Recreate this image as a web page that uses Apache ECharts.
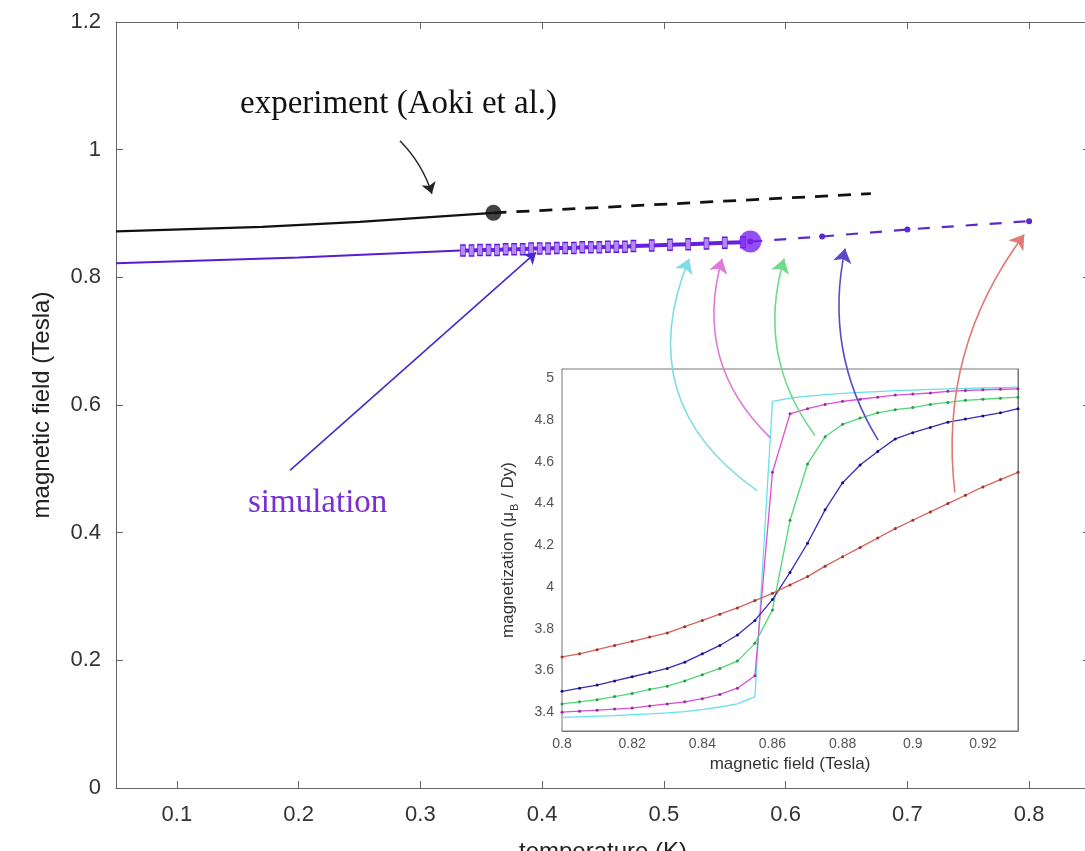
<!DOCTYPE html>
<html>
<head>
<meta charset="utf-8">
<script src="https://cdn.jsdelivr.net/npm/echarts@6/dist/echarts.min.js"></script>
<style>
  html, body { margin: 0; padding: 0; background: #fff; }
  #chart { width: 1085px; height: 851px; }
</style>
</head>
<body>
<div id="chart"></div>
<script>
// main plot: phase boundary, temperature (K) vs magnetic field (T)
const tempTicks = [0.1, 0.2, 0.3, 0.4, 0.5, 0.6, 0.7, 0.8];

const expSolidT = [0.05, 0.17, 0.25, 0.36];
const expSolidB = [0.872, 0.879, 0.887, 0.901];
const expDashT = [0.36, 0.67];
const expDashB = [0.901, 0.931];

const simSolidT = [0.05, 0.2, 0.333];
const simSolidB = [0.822, 0.831, 0.842];
const simDenseT = [0.335, 0.342, 0.349, 0.356, 0.363, 0.370, 0.377, 0.384, 0.391, 0.398, 0.405, 0.412,
  0.419, 0.426, 0.433, 0.44, 0.447, 0.454, 0.461, 0.468, 0.475, 0.49, 0.505, 0.52, 0.535, 0.55, 0.565];
const simDenseB = [0.842, 0.842, 0.843, 0.843, 0.843, 0.844, 0.844, 0.844, 0.845, 0.845, 0.845, 0.846,
  0.846, 0.846, 0.847, 0.847, 0.847, 0.848, 0.848, 0.848, 0.849, 0.850, 0.851, 0.852, 0.853, 0.854, 0.855];
const simCritT = [0.571];
const simCritB = [0.856];
const simDashT = [0.571, 0.63, 0.70, 0.80];
const simDashB = [0.856, 0.864, 0.875, 0.888];

// inset: magnetization vs field at several temperatures
const fieldTicks = [0.8, 0.82, 0.84, 0.86, 0.88, 0.9, 0.92];
const magTicks = [3.4, 3.6, 3.8, 4, 4.2, 4.4, 4.6, 4.8, 5];
const field = [0.800, 0.805, 0.810, 0.815, 0.820, 0.825, 0.830, 0.835, 0.840, 0.845, 0.850, 0.855, 0.860,
  0.865, 0.870, 0.875, 0.880, 0.885, 0.890, 0.895, 0.900, 0.905, 0.910, 0.915, 0.920, 0.925, 0.930];
const magCyan = [3.375, 3.378, 3.381, 3.384, 3.388, 3.392, 3.397, 3.403, 3.412, 3.425, 3.44, 3.475, 4.89,
  4.905, 4.915, 4.922, 4.928, 4.933, 4.937, 4.941, 4.944, 4.947, 4.95, 4.952, 4.954, 4.956, 4.958];
const magMagenta = [3.40, 3.405, 3.41, 3.415, 3.42, 3.43, 3.44, 3.45, 3.465, 3.485, 3.515, 3.575, 4.55,
  4.83, 4.855, 4.875, 4.89, 4.90, 4.91, 4.92, 4.925, 4.93, 4.938, 4.942, 4.945, 4.948, 4.95];
const magGreen = [3.44, 3.45, 3.46, 3.475, 3.49, 3.51, 3.525, 3.55, 3.58, 3.61, 3.645, 3.73, 3.89,
  4.32, 4.59, 4.72, 4.78, 4.81, 4.835, 4.85, 4.86, 4.875, 4.885, 4.895, 4.90, 4.905, 4.91];
const magBlue = [3.50, 3.515, 3.53, 3.55, 3.57, 3.59, 3.61, 3.64, 3.68, 3.72, 3.77, 3.84, 3.94,
  4.07, 4.21, 4.37, 4.50, 4.585, 4.65, 4.71, 4.74, 4.765, 4.79, 4.805, 4.82, 4.835, 4.855];
const magRed = [3.665, 3.68, 3.70, 3.72, 3.74, 3.76, 3.78, 3.81, 3.84, 3.87, 3.90, 3.935, 3.97,
  4.01, 4.05, 4.10, 4.145, 4.19, 4.235, 4.28, 4.32, 4.36, 4.40, 4.44, 4.48, 4.515, 4.55];

// annotation arrows, in main-plot coordinates (temperature, field)
const arrowFrom = [[0.5766, 0.466], [0.5873, 0.549], [0.6242, 0.552], [0.676, 0.545], [0.739, 0.463]];
const arrowTo = [[0.5207, 0.829], [0.5478, 0.829], [0.5988, 0.829], [0.6489, 0.845], [0.796, 0.867]];
const arrowColors = ['#7fdde6', '#e07ad8', '#6fd98c', '#5b4cc6', '#e07a72'];
const arrowBend = [0.4, 0.3, 0.25, 0.2, 0.2];

const zip = (xs, ys) => xs.map((x, i) => [x, ys[i]]);

const sans = 'Liberation Sans, Arial, sans-serif';
const serif = 'Liberation Serif, Times New Roman, serif';

function frameAxis(extra) {
  return Object.assign({
    type: 'value',
    axisLine: { show: true, onZero: false, lineStyle: { color: '#666', width: 1 } },
    axisTick: { show: true, inside: true, length: 6, lineStyle: { color: '#666' } },
    axisLabel: { show: false },
    splitLine: { show: false }
  }, extra);
}

const chart = echarts.init(document.getElementById('chart'));

const insetSeries = [
  ['cyan', magCyan, '#66e0ea', '#66e0ea', 0],
  ['magenta', magMagenta, '#d94fd6', '#9a2a9a', 3],
  ['green', magGreen, '#4fd873', '#2a9a4a', 3],
  ['blue', magBlue, '#3a2db8', '#1a1080', 3],
  ['red', magRed, '#d9605c', '#9a3030', 3]
].map(([name, vals, color, dot, size]) => ({
  name, type: 'line', xAxisIndex: 2, yAxisIndex: 2,
  data: zip(field, vals),
  symbol: size ? 'circle' : 'none', symbolSize: size, showSymbol: !!size,
  lineStyle: { color, width: 1.3 },
  itemStyle: { color: dot },
  z: 3
}));

chart.setOption({
  animation: false,
  backgroundColor: '#fff',
  grid: [
    { left: 116, right: -5, top: 22, bottom: 63, show: false, outerBoundsMode: 'none', containLabel: false },
    { left: 562, right: 67, top: 369, bottom: 120, show: true, backgroundColor: '#fff',
      borderColor: '#777', borderWidth: 1, z: 1, outerBoundsMode: 'none', containLabel: false }
  ],
  xAxis: [
    frameAxis({
      gridIndex: 0, min: 0.05, max: 0.85, position: 'bottom',
      axisTick: { show: true, inside: true, length: 7, customValues: tempTicks, lineStyle: { color: '#666' } },
      axisLabel: { show: true, customValues: tempTicks, fontSize: 22, color: '#333', fontFamily: sans, margin: 16 },
      name: 'temperature (K)', nameLocation: 'middle', nameGap: 52,
      nameTextStyle: { fontSize: 24, color: '#222', fontFamily: sans }
    }),
    frameAxis({
      gridIndex: 0, min: 0.05, max: 0.85, position: 'top',
      axisTick: { show: true, inside: true, length: 7, customValues: tempTicks, lineStyle: { color: '#666' } }
    }),
    frameAxis({
      gridIndex: 1, min: 0.8, max: 0.93, position: 'bottom',
      axisTick: { show: true, inside: true, length: 5, customValues: fieldTicks, lineStyle: { color: '#777' } },
      axisLabel: { show: true, customValues: fieldTicks, fontSize: 14, color: '#555', fontFamily: sans, margin: 6 },
      axisLine: { show: true, onZero: false, lineStyle: { color: '#777' } },
      name: 'magnetic field (Tesla)', nameLocation: 'middle', nameGap: 25,
      nameTextStyle: { fontSize: 17, color: '#333', fontFamily: sans }
    }),
    frameAxis({
      gridIndex: 1, min: 0.8, max: 0.93, position: 'top',
      axisTick: { show: true, inside: true, length: 5, customValues: fieldTicks, lineStyle: { color: '#777' } },
      axisLine: { show: true, onZero: false, lineStyle: { color: '#777' } }
    })
  ],
  yAxis: [
    frameAxis({
      gridIndex: 0, min: 0, max: 1.2, interval: 0.2, position: 'left',
      axisTick: { show: true, inside: true, length: 7, lineStyle: { color: '#666' } },
      axisLabel: { show: true, fontSize: 22, color: '#333', fontFamily: sans, margin: 15 },
      name: 'magnetic field (Tesla)', nameLocation: 'middle', nameRotate: 90, nameGap: 62,
      nameTextStyle: { fontSize: 24, color: '#222', fontFamily: sans }
    }),
    frameAxis({
      gridIndex: 0, min: 0, max: 1.2, interval: 0.2, position: 'right',
      axisTick: { show: true, inside: true, length: 7, lineStyle: { color: '#666' } }
    }),
    frameAxis({
      gridIndex: 1, min: 3.31, max: 5.045, position: 'left',
      axisTick: { show: true, inside: true, length: 5, customValues: magTicks, lineStyle: { color: '#777' } },
      axisLabel: { show: true, customValues: magTicks, fontSize: 14, color: '#555', fontFamily: sans, margin: 8 },
      axisLine: { show: true, onZero: false, lineStyle: { color: '#777' } },
      name: '{a|magnetization (μ}{b|B}{a| / Dy)}', nameLocation: 'middle', nameRotate: 90, nameGap: 42,
      nameTextStyle: {
        color: '#333', fontFamily: sans,
        rich: {
          a: { fontSize: 17, color: '#333', fontFamily: sans, lineHeight: 24, verticalAlign: 'middle' },
          b: { fontSize: 11, color: '#333', fontFamily: sans, lineHeight: 24, verticalAlign: 'bottom', padding: [0, 1, 0, 1] }
        }
      }
    }),
    frameAxis({
      gridIndex: 1, min: 3.31, max: 5.045, position: 'right',
      axisTick: { show: true, inside: true, length: 5, customValues: magTicks, lineStyle: { color: '#777' } },
      axisLine: { show: true, onZero: false, lineStyle: { color: '#777' } }
    })
  ],
  graphic: [
    { type: 'text', left: 240, top: 88, z: 10,
      style: { text: 'experiment (Aoki et al.)', font: '33px ' + serif, fill: '#111' } },
    { type: 'text', left: 248, top: 487, z: 10,
      style: { text: 'simulation', font: '33px ' + serif, fill: '#7a2fd4' } }
  ],
  series: [
    { name: 'experiment', type: 'line', data: zip(expSolidT, expSolidB), symbol: 'none',
      lineStyle: { color: '#111', width: 2.2 } },
    { name: 'experiment dashed', type: 'line', data: zip(expDashT, expDashB), symbol: 'none',
      lineStyle: { color: '#111', width: 2.8, type: [13, 10] } },
    { name: 'experiment end', type: 'scatter', data: zip([expSolidT[3]], [expSolidB[3]]), symbolSize: 16,
      itemStyle: { color: '#111' } },
    { name: 'simulation', type: 'line', data: zip(simSolidT, simSolidB), symbol: 'none',
      lineStyle: { color: '#5a1ccf', width: 2 } },
    { name: 'simulation dense', type: 'line', data: zip(simDenseT, simDenseB), symbol: 'rect',
      symbolSize: [5, 11], showSymbol: true,
      lineStyle: { color: '#6a1ee0', width: 4 },
      itemStyle: { color: '#b28af5', borderColor: '#6418d8', borderWidth: 1 } },
    { name: 'simulation dashed', type: 'line', data: zip(simDashT, simDashB), symbol: 'circle',
      symbolSize: 6, showSymbol: true,
      lineStyle: { color: '#5a2ad0', width: 2.2, type: [12, 12] },
      itemStyle: { color: '#5a2ad0' } },
    { name: 'critical point', type: 'scatter', data: zip(simCritT, simCritB), symbolSize: 22,
      itemStyle: { color: '#7a22ee' }, z: 4 },
    ...insetSeries,
    { name: 'inset arrows', type: 'lines', coordinateSystem: 'cartesian2d', xAxisIndex: 0, yAxisIndex: 0,
      symbol: ['none', 'arrow'], symbolSize: [0, 14], z: 5,
      data: arrowFrom.map((p, i) => ({
        coords: [p, arrowTo[i]],
        lineStyle: { color: arrowColors[i], width: 1.6, curveness: arrowBend[i], opacity: 1 }
      })) },
    { name: 'label arrows', type: 'lines', coordinateSystem: 'cartesian2d', xAxisIndex: 0, yAxisIndex: 0,
      symbol: ['none', 'arrow'], symbolSize: [0, 11], z: 5,
      data: [
        { coords: [[0.2832, 1.014], [0.3095, 0.931]], lineStyle: { color: '#222', width: 1.4, curveness: 0.12, opacity: 1 } },
        { coords: [[0.1929, 0.4977], [0.395, 0.839]], lineStyle: { color: '#4a2ad0', width: 1.6, curveness: 0, opacity: 1 } }
      ] }
  ]
});
</script>
</body>
</html>
